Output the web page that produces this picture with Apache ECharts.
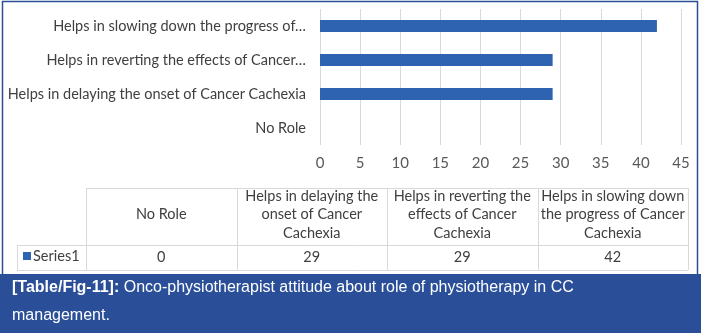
<!DOCTYPE html>
<html>
<head>
<meta charset="utf-8">
<script src="https://cdn.jsdelivr.net/npm/echarts@6/dist/echarts.min.js"></script>
<style>html,body{margin:0;padding:0;background:#fff}#c{width:701px;height:335px}</style>
</head>
<body>
<div id="c"></div>
<script>
// ---- data ----
var categories = ["No Role", "Helps in delaying the onset of Cancer Cachexia", "Helps in reverting the effects of Cancer Cachexia", "Helps in slowing down the progress of Cancer Cachexia"];
var axisLabels = ["No Role", "Helps in delaying the onset of Cancer Cachexia", "Helps in reverting the effects of Cancer…", "Helps in slowing down the progress of…"];
var tableHeaders = ["No Role", "Helps in delaying the\nonset of Cancer\nCachexia", "Helps in reverting the\neffects of Cancer\nCachexia", "Helps in slowing down\nthe progress of Cancer\nCachexia"];
var seriesName = "Series1";
var values = [0, 29, 29, 42];
var xTicks = [0, 5, 10, 15, 20, 25, 30, 35, 40, 45];
var captionBold = "[Table/Fig-11]:";
var captionLine1 = " Onco-physiotherapist attitude about role of physiotherapy in CC";
var captionLine2 = "management.";

// ---- styles / layout ----
var FONT = "Lato";
var barColor = "#2e63b2";
var gridColor = "#d9d9d9";
var blue = "#2a4f98";
var tblLeft = 86, tblRight = 688, tblTop = 188, tblMid = 245, tblBottom = 270, keyLeft = 17;

var chart = echarts.init(document.getElementById('c'), null, {renderer: 'canvas'});

var graphics = [];
// outer border
graphics.push({type:'rect', shape:{x:2.5, y:1.5, width:695, height:274}, style:{fill:'none', stroke:blue, lineWidth:1.5}, z:100});
// caption box
graphics.push({type:'rect', shape:{x:0, y:274, width:701, height:59}, style:{fill:blue}, z:101});
graphics.push({type:'text', x:12, y:288, style:{text:'{b|' + captionBold + '}' + captionLine1, fill:'#fff', font:'16px "Liberation Sans"', verticalAlign:'middle',
  rich:{b:{fontWeight:'bold', fontSize:16, fontFamily:'Liberation Sans', fill:'#fff'}}}, z:102});
graphics.push({type:'text', x:12, y:316, style:{text:captionLine2, fill:'#fff', font:'16px "Liberation Sans"', verticalAlign:'middle'}, z:102});

// table lines
function line(x1,y1,x2,y2){graphics.push({type:'line', shape:{x1:x1,y1:y1,x2:x2,y2:y2}, style:{stroke:gridColor, lineWidth:1}, z:50});}
var n = categories.length;
var colW = (tblRight - tblLeft) / n;
line(tblLeft, tblTop+0.5, tblRight, tblTop+0.5);
line(keyLeft, tblMid+0.5, tblRight, tblMid+0.5);
line(keyLeft, tblBottom+0.5, tblRight, tblBottom+0.5);
line(keyLeft+0.5, tblMid, keyLeft+0.5, tblBottom);
for (var i = 0; i <= n; i++) {
  var x = Math.round(tblLeft + i*colW) + 0.5;
  line(x, tblTop, x, tblBottom);
}
for (var i = 0; i < n; i++) {
  var cx = tblLeft + (i+0.5)*colW;
  graphics.push({type:'text', x:cx, y:(tblTop+tblMid)/2 - 2, style:{text:tableHeaders[i], fill:'#404040', font:'14.5px ' + FONT, align:'center', verticalAlign:'middle', lineHeight:18.5}, z:51});
  graphics.push({type:'text', x:cx, y:(tblMid+tblBottom)/2 - 0.5, style:{text:String(values[i]), fill:'#404040', font:'14.5px ' + FONT, align:'center', verticalAlign:'middle'}, z:51});
}
// legend key
graphics.push({type:'rect', shape:{x:23, y:252, width:8, height:8}, style:{fill:barColor}, z:51});
graphics.push({type:'text', x:33, y:256.5, style:{text:seriesName, fill:'#404040', font:'14.5px ' + FONT, verticalAlign:'middle'}, z:51});

chart.setOption({
  animation: false,
  backgroundColor: '#fff',
  grid: {left: 320, right: 20, top: 9, height: 136, containLabel: false},
  xAxis: {
    type: 'value', min: xTicks[0], max: xTicks[xTicks.length-1], interval: xTicks[1]-xTicks[0],
    axisLine: {show:false}, axisTick: {show:false},
    splitLine: {show:true, lineStyle:{color:gridColor, width:1}},
    axisLabel: {color:'#595959', fontSize:15, fontFamily:FONT, margin:11}
  },
  yAxis: {
    type: 'category', data: categories,
    axisLine: {show:false}, axisTick: {show:false},
    axisLabel: {color:'#404040', fontSize:14.5, fontFamily:FONT, margin:14,
      formatter: function(v, idx){ return axisLabels[idx]; }}
  },
  series: [{
    name: seriesName, type: 'bar', data: values, barWidth: 12,
    itemStyle: {color: barColor}
  }],
  graphic: graphics
});
</script>
</body>
</html>
